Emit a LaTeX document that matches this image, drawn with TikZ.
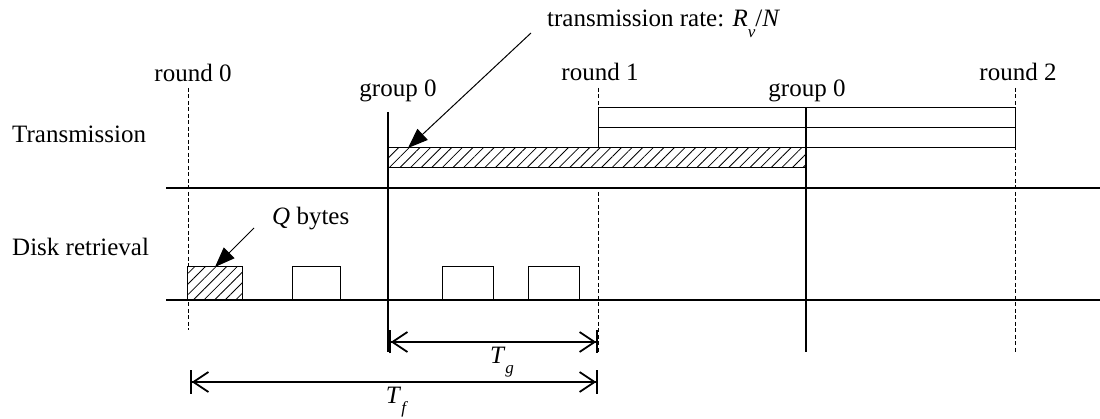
\documentclass[tikz,border=0pt]{standalone}
\usepackage{fontspec}
\setmainfont{Liberation Serif}
\usetikzlibrary{arrows.meta,patterns.meta}
\newcommand\lowsub[1]{\raisebox{-0.42em}{\fontsize{17}{17}\selectfont\textit{#1}}}
\begin{document}
\begin{tikzpicture}[x=1pt,y=-1pt,font=\fontsize{25}{29}\selectfont,
  lbl/.style={anchor=base,inner sep=0pt},
  lbll/.style={anchor=base west,inner sep=0pt},
  axis/.style={line width=1.2pt},
  guide/.style={dash pattern=on 4pt off 2.5pt,line width=0.7pt},
  marker/.style={line width=2.4pt},
  slot/.style={draw,fill=white,line width=1pt,inner sep=0pt,outer sep=0pt,anchor=north west},
  hatch/.style={draw,line width=1pt,inner sep=0pt,outer sep=0pt,anchor=north west,preaction={fill=white},pattern={Lines[angle=45,distance=7.5pt,line width=0.8pt]}},
  dim/.style={line width=1.8pt,{Bar[width=23pt,sep=0pt]Straight Barb[length=15pt,width=20pt,line width=1.8pt]}-{Straight Barb[length=15pt,width=20pt,line width=1.8pt,sep=0pt]Bar[width=23pt]}},
  pointer/.style={line width=1pt,-{Triangle[length=20pt,width=15pt]}}]
\useasboundingbox (0,0) rectangle (1100,419);
% guides
\coordinate (r0t) at (188,88); \coordinate (r0b) at (188,330);
\coordinate (r1t) at (598,88); \coordinate (r1b) at (598,352);
\coordinate (r2t) at (1015,88); \coordinate (r2b) at (1015,352);
\draw[guide] (r0t) -- (r0b);
\draw[guide] (r1t) -- (r1b);
\draw[guide] (r2t) -- (r2b);
% axes
\coordinate (ax1l) at (166,188); \coordinate (ax1r) at (1100,188);
\coordinate (ax2l) at (166,300); \coordinate (ax2r) at (1100,300);
% transmission blocks
\node[hatch,minimum width=418,minimum height=20] (bar) at (388,148) {};
\node[slot,minimum width=418,minimum height=20] (barlow) at (388,168) {};
\node[slot,minimum width=417,minimum height=20] (row1) at (598,108) {};
\node[slot,minimum width=417,minimum height=20] (row2) at (598,128) {};
% disk blocks
\node[hatch,minimum width=55,minimum height=33] (d0) at (187,267) {};
\node[slot,minimum width=48,minimum height=33] (d1) at (292,267) {};
\node[slot,minimum width=51,minimum height=33] (d2) at (442,267) {};
\node[slot,minimum width=51,minimum height=33] (d3) at (528,267) {};
\draw[axis] (ax1l) -- (ax1r);
\draw[axis] (ax2l) -- (ax2r);
% group markers
\coordinate (g0t) at (388,112); \coordinate (g0b) at (388,352);
\coordinate (g1t) at (806,108); \coordinate (g1b) at (806,352);
\draw[marker] (g0t) -- (g0b);
\draw[marker] (g1t) -- (g1b);
% labels
\node[lbl] (lr0) at (193,82) {round 0};
\node[lbl] (lr1) at (600,81) {round 1};
\node[lbl] (lr2) at (1018,81) {round 2};
\node[lbl] (lg0) at (398,97) {group 0};
\node[lbl] (lg1) at (807,97) {group 0};
\node[lbll] (ltr) at (12,143) {Transmission};
\node[lbll] (ldr) at (12,256) {Disk retrieval};
\node[lbll] (lq) at (272,225) {\textit{Q} bytes};
\node[lbll] (lrate) at (547,27) {transmission rate: \textit{R}\lowsub{v}/\textit{N}};
% pointers
\coordinate (ratetail) at (531,33);
\draw[pointer] (ratetail) -- ([xshift=20pt]bar.north west);
\coordinate (qtail) at (254,228);
\draw[pointer] (qtail) -- ([xshift=28pt]d0.north west);
% dimensions
\coordinate (tgl) at (389,342); \coordinate (tgr) at (598,342);
\coordinate (tfl) at (190,382); \coordinate (tfr) at (598,382);
\draw[dim] (tgl) -- (tgr);
\draw[dim] (tfl) -- (tfr);
\node[lbl] (ltg) at (502,363) {\textit{T}\lowsub{g}};
\node[lbl] (ltf) at (397,403) {\textit{T}\lowsub{f}};
\end{tikzpicture}
\end{document}
